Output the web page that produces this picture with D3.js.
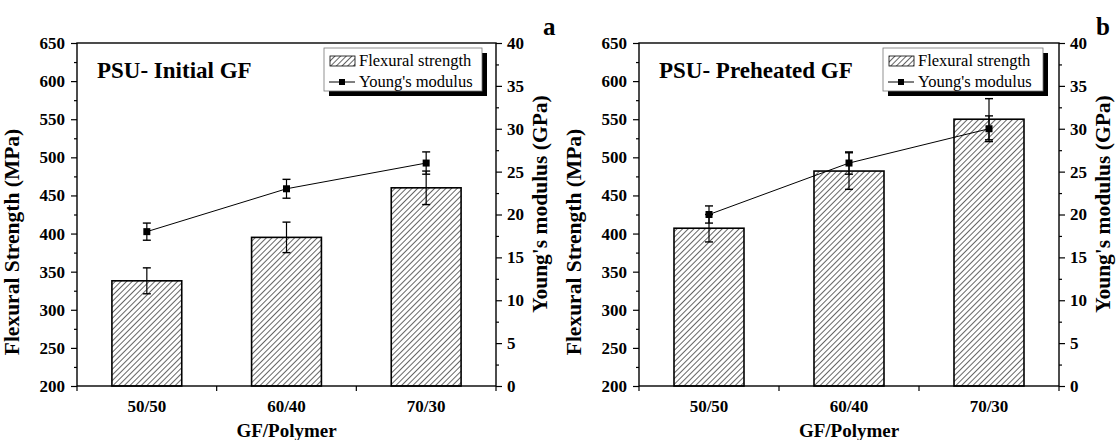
<!DOCTYPE html>
<html>
<head>
<meta charset="utf-8">
<script src="https://cdn.jsdelivr.net/npm/d3@7"></script>
<style>
  html, body { margin: 0; padding: 0; background: #fff; }
  svg { display: block; }
  text { font-family: "Liberation Serif", "Times New Roman", serif; fill: #000; }
</style>
</head>
<body>
<svg id="chart" width="1117" height="440"></svg>
<script>
// Composition ratios on the x axis
const categories = ["50/50", "60/40", "70/30"];

// Panel a: PSU with initial glass fibre
const strengthInitial = [338, 395, 460];
const strengthInitialErr = [17, 20, 22];
const modulusInitial = [18, 23, 26];
const modulusInitialErr = [1.0, 1.1, 1.3];

// Panel b: PSU with preheated glass fibre
const strengthPreheated = [407, 482, 550];
const strengthPreheatedErr = [18, 24, 27];
const modulusPreheated = [20, 26, 30];
const modulusPreheatedErr = [1.0, 1.3, 1.5];

// Axis ticks
const leftTicks = [200, 250, 300, 350, 400, 450, 500, 550, 600, 650];
const leftMinor = [225, 275, 325, 375, 425, 475, 525, 575, 625];
const rightTicks = [0, 5, 10, 15, 20, 25, 30, 35, 40];
const rightMinor = [2.5, 7.5, 12.5, 17.5, 22.5, 27.5, 32.5, 37.5];

const svg = d3.select("#chart");
const serif = "'Liberation Serif', 'Times New Roman', serif";

// Diagonal hatch used for the strength bars
const defs = svg.append("defs");
const pat = defs.append("pattern")
  .attr("id", "hatch")
  .attr("patternUnits", "userSpaceOnUse")
  .attr("width", 4).attr("height", 4)
  .attr("patternTransform", "rotate(45)");
pat.append("rect").attr("width", 4).attr("height", 4).attr("fill", "#fff");
pat.append("line")
  .attr("x1", 0.5).attr("y1", 0).attr("x2", 0.5).attr("y2", 4)
  .attr("stroke", "#4a4a4a").attr("stroke-width", 0.85);

const panels = [
  { left: 77, right: 496, title: "PSU- Initial GF", letter: "a", letterDx: 47,
    strength: strengthInitial, strengthErr: strengthInitialErr,
    modulus: modulusInitial, modulusErr: modulusInitialErr,
    legendX: 324, legendW: 158 },
  { left: 639, right: 1059, title: "PSU- Preheated GF", letter: "b", letterDx: 37,
    strength: strengthPreheated, strengthErr: strengthPreheatedErr,
    modulus: modulusPreheated, modulusErr: modulusPreheatedErr,
    legendX: 883, legendW: 160 }
];

const plotTop = 43, plotBottom = 386;

panels.forEach(p => {
  const g = svg.append("g");
  const x = d3.scaleBand().domain(categories).range([p.left, p.right])
    .paddingInner(0.5).paddingOuter(0.25);
  const yL = d3.scaleLinear().domain([200, 650]).range([plotBottom, plotTop]);
  const yR = d3.scaleLinear().domain([0, 40]).range([plotBottom, plotTop]);
  const step = x.step(), bw = x.bandwidth();
  const cx = c => x(c) + bw / 2;

  // Bars
  g.selectAll("rect.bar").data(categories).join("rect")
    .attr("x", c => x(c)).attr("width", bw)
    .attr("y", (c, i) => yL(p.strength[i]))
    .attr("height", (c, i) => yL(200) - yL(p.strength[i]))
    .attr("fill", "url(#hatch)").attr("stroke", "#000").attr("stroke-width", 1.6);

  // Error bars helper
  function errBars(values, errs, scale) {
    categories.forEach((c, i) => {
      const xc = cx(c);
      const y1 = scale(values[i] + errs[i]), y0 = scale(values[i] - errs[i]);
      g.append("line").attr("x1", xc).attr("x2", xc).attr("y1", y1).attr("y2", y0)
        .attr("stroke", "#000").attr("stroke-width", 1.2);
      [y1, y0].forEach(yy => g.append("line")
        .attr("x1", xc - 4).attr("x2", xc + 4).attr("y1", yy).attr("y2", yy)
        .attr("stroke", "#000").attr("stroke-width", 1.4));
    });
  }
  errBars(p.strength, p.strengthErr, yL);

  // Modulus line with square markers
  const line = d3.line().x((d, i) => cx(categories[i])).y(d => yR(d));
  g.append("path").datum(p.modulus).attr("d", line)
    .attr("fill", "none").attr("stroke", "#000").attr("stroke-width", 1);
  errBars(p.modulus, p.modulusErr, yR);
  g.selectAll("rect.pt").data(p.modulus).join("rect")
    .attr("x", (d, i) => cx(categories[i]) - 3.5).attr("y", d => yR(d) - 3.5)
    .attr("width", 7).attr("height", 7).attr("fill", "#000");

  // Frame
  g.append("rect").attr("x", p.left).attr("y", plotTop)
    .attr("width", p.right - p.left).attr("height", plotBottom - plotTop)
    .attr("fill", "none").attr("stroke", "#000").attr("stroke-width", 1.4);

  // Left axis
  const axL = g.append("g").attr("transform", `translate(${p.left},0)`)
    .call(d3.axisLeft(yL).tickValues(leftTicks).tickSize(6).tickPadding(6));
  g.append("g").attr("transform", `translate(${p.left},0)`)
    .call(d3.axisLeft(yL).tickValues(leftMinor).tickSize(3).tickFormat(""))
    .call(s => s.select(".domain").remove());
  axL.select(".domain").remove();

  // Right axis
  const axR = g.append("g").attr("transform", `translate(${p.right},0)`)
    .call(d3.axisRight(yR).tickValues(rightTicks).tickSize(6).tickPadding(5));
  g.append("g").attr("transform", `translate(${p.right},0)`)
    .call(d3.axisRight(yR).tickValues(rightMinor).tickSize(3).tickFormat(""))
    .call(s => s.select(".domain").remove());
  axR.select(".domain").remove();

  // Bottom axis: labels at band centres, ticks at band edges
  const axB = g.append("g").attr("transform", `translate(0,${plotBottom})`)
    .call(d3.axisBottom(x).tickSize(0).tickPadding(14));
  axB.select(".domain").remove();
  const edges = d3.range(categories.length + 1).map(k => p.left + k * step);
  g.selectAll("line.xt").data(edges).join("line")
    .attr("x1", d => d).attr("x2", d => d).attr("y1", plotBottom).attr("y2", plotBottom + 5)
    .attr("stroke", "#000").attr("stroke-width", 1.2);

  [axL, axR, axB].forEach(a => a.attr("font-family", serif).attr("font-size", 17));
  g.selectAll(".tick line").attr("stroke-width", 1.2);
  g.selectAll(".tick text")
    .style("font-family", serif)
    .style("font-size", "17px").style("font-weight", "bold");

  // Axis titles
  const mid = (p.left + p.right) / 2;
  g.append("text").attr("x", mid).attr("y", 437).attr("text-anchor", "middle")
    .style("font-size", "19px").style("font-weight", "bold").text("GF/Polymer");
  g.append("text").attr("transform", `translate(${p.left - 58},242) rotate(-90)`)
    .attr("text-anchor", "middle")
    .style("font-size", "21.5px").style("font-weight", "bold").text("Flexural Strength (MPa)");
  g.append("text").attr("transform", `translate(${p.right + 51},204) rotate(-90)`)
    .attr("text-anchor", "middle")
    .style("font-size", "21.5px").style("font-weight", "bold").text("Young's modulus (GPa)");

  // Panel title and letter
  g.append("text").attr("x", p.left + 20).attr("y", 78)
    .style("font-size", "23px").style("font-weight", "bold").text(p.title);
  g.append("text").attr("x", p.right + p.letterDx).attr("y", 35)
    .style("font-size", "25px").style("font-weight", "bold").text(p.letter);

  // Legend with drop shadow
  const lx = p.legendX, ly = 48, lw = p.legendW, lh = 43;
  g.append("rect").attr("x", lx + 5).attr("y", ly + 5).attr("width", lw).attr("height", lh)
    .attr("fill", "#000");
  g.append("rect").attr("x", lx).attr("y", ly).attr("width", lw).attr("height", lh)
    .attr("fill", "#fff").attr("stroke", "#777").attr("stroke-width", 0.8);
  g.append("rect").attr("x", lx + 6).attr("y", ly + 8).attr("width", 25).attr("height", 10)
    .attr("fill", "url(#hatch)").attr("stroke", "#000").attr("stroke-width", 0.8);
  g.append("text").attr("x", lx + 35).attr("y", ly + 18)
    .style("font-size", "16.5px").text("Flexural strength");
  g.append("line").attr("x1", lx + 5).attr("x2", lx + 31).attr("y1", ly + 34).attr("y2", ly + 34)
    .attr("stroke", "#000").attr("stroke-width", 1);
  g.append("rect").attr("x", lx + 15).attr("y", ly + 31).attr("width", 6).attr("height", 6)
    .attr("fill", "#000");
  g.append("text").attr("x", lx + 35).attr("y", ly + 39)
    .style("font-size", "16.5px").text("Young's modulus");
});
</script>
</body>
</html>
